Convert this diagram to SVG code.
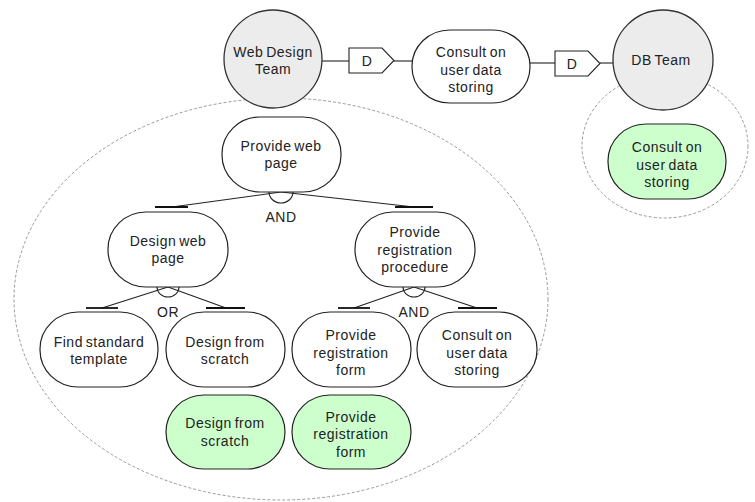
<svg xmlns="http://www.w3.org/2000/svg" width="755" height="502" viewBox="0 0 755 502">
<style>
.bound{fill:none;stroke:#9a9a9a;stroke-width:1;stroke-dasharray:3,2}
.actor{fill:#ececec;stroke:#333;stroke-width:1.3}
.goal{fill:#fff;stroke:#222;stroke-width:1.2}
.green{fill:#ccffcc;stroke:#222;stroke-width:1.2}
.dep{fill:#fff;stroke:#222;stroke-width:1.1}
.ln{fill:none;stroke:#222;stroke-width:1.1}
.bar{stroke:#111;stroke-width:1.8}
text{font-family:"Liberation Sans",Arial,sans-serif;font-size:14px;fill:#222;text-anchor:middle;letter-spacing:0.5px;word-spacing:-1.5px}
</style>
<rect width="755" height="502" fill="#fff"/>
<g id="boundaries">
<ellipse class="bound" cx="281" cy="299" rx="267" ry="201"/>
<ellipse class="bound" cx="665" cy="146" rx="83" ry="72"/>
</g>
<g id="connectors">
<line class="ln" x1="322" y1="61" x2="349" y2="61"/>
<line class="ln" x1="394" y1="61" x2="413" y2="61"/>
<line class="ln" x1="530" y1="63" x2="555" y2="63"/>
<line class="ln" x1="600" y1="63" x2="614" y2="63"/>
<line class="ln" x1="281" y1="192" x2="172" y2="207"/>
<line class="ln" x1="281" y1="192" x2="414" y2="207"/>
<line class="bar" x1="155" y1="207" x2="188" y2="207"/>
<line class="bar" x1="395" y1="207" x2="433" y2="207"/>
<path class="ln" d="M269,192 A12,11 0 0 0 293,192"/>
<line class="ln" x1="168" y1="287" x2="102" y2="308"/>
<line class="ln" x1="168" y1="287" x2="226" y2="308"/>
<line class="bar" x1="86" y1="308" x2="118" y2="308"/>
<line class="bar" x1="206" y1="308" x2="245" y2="308"/>
<path class="ln" d="M157,287 A11,10 0 0 0 179,287"/>
<line class="ln" x1="414" y1="287" x2="354" y2="308"/>
<line class="ln" x1="414" y1="287" x2="477" y2="308"/>
<line class="bar" x1="338" y1="308" x2="370" y2="308"/>
<line class="bar" x1="458" y1="308" x2="497" y2="308"/>
<path class="ln" d="M403,287 A11,10 0 0 0 425,287"/>
<text x="281" y="222">AND</text>
<text x="168" y="317">OR</text>
<text x="414" y="317">AND</text>
</g>
<g id="web-design-team">
<circle class="actor" cx="273" cy="59" r="49"/>
<text x="273" y="57">Web Design</text>
<text x="273" y="74">Team</text>
</g>
<g id="dep-d1">
<path class="dep" d="M349,48 H382 L394,60.5 L382,73 H349 Z"/>
<text x="367" y="66">D</text>
</g>
<g id="consult-dependum">
<rect class="goal" x="412" y="30" width="118" height="73" rx="38" ry="36"/>
<text x="471" y="57">Consult on</text>
<text x="471" y="75">user data</text>
<text x="471" y="92">storing</text>
</g>
<g id="dep-d2">
<path class="dep" d="M555,51 H588 L600,63.5 L588,76 H555 Z"/>
<text x="572" y="69">D</text>
</g>
<g id="db-team">
<circle class="actor" cx="663" cy="60" r="50"/>
<text x="661" y="65">DB Team</text>
</g>
<g id="db-consult">
<rect class="green" x="608" y="124" width="118" height="75" rx="38" ry="37"/>
<text x="667" y="152">Consult on</text>
<text x="667" y="170">user data</text>
<text x="667" y="187">storing</text>
</g>
<g id="provide-web-page">
<rect class="goal" x="222" y="117" width="119" height="75" rx="38" ry="37"/>
<text x="281" y="151">Provide web</text>
<text x="281" y="168">page</text>
</g>
<g id="design-web-page">
<rect class="goal" x="108" y="212" width="120" height="75" rx="38" ry="37"/>
<text x="168" y="246">Design web</text>
<text x="168" y="263">page</text>
</g>
<g id="provide-registration-procedure">
<rect class="goal" x="355" y="212" width="120" height="75" rx="38" ry="37"/>
<text x="415" y="237">Provide</text>
<text x="415" y="255">registration</text>
<text x="415" y="272">procedure</text>
</g>
<g id="find-standard-template">
<rect class="goal" x="40" y="312" width="118" height="75" rx="38" ry="37"/>
<text x="99" y="347">Find standard</text>
<text x="99" y="364">template</text>
</g>
<g id="design-from-scratch">
<rect class="goal" x="166" y="312" width="119" height="75" rx="38" ry="37"/>
<text x="225" y="347">Design from</text>
<text x="225" y="364">scratch</text>
</g>
<g id="provide-registration-form">
<rect class="goal" x="292" y="312" width="119" height="75" rx="38" ry="37"/>
<text x="351" y="340">Provide</text>
<text x="351" y="358">registration</text>
<text x="351" y="375">form</text>
</g>
<g id="consult-child">
<rect class="goal" x="417" y="312" width="120" height="75" rx="38" ry="37"/>
<text x="477" y="340">Consult on</text>
<text x="477" y="358">user data</text>
<text x="477" y="375">storing</text>
</g>
<g id="green-design-from-scratch">
<rect class="green" x="166" y="395" width="119" height="74" rx="38" ry="37"/>
<text x="225" y="428">Design from</text>
<text x="225" y="446">scratch</text>
</g>
<g id="green-provide-registration-form">
<rect class="green" x="292" y="395" width="119" height="74" rx="38" ry="37"/>
<text x="351" y="422">Provide</text>
<text x="351" y="439">registration</text>
<text x="351" y="457">form</text>
</g>
</svg>
